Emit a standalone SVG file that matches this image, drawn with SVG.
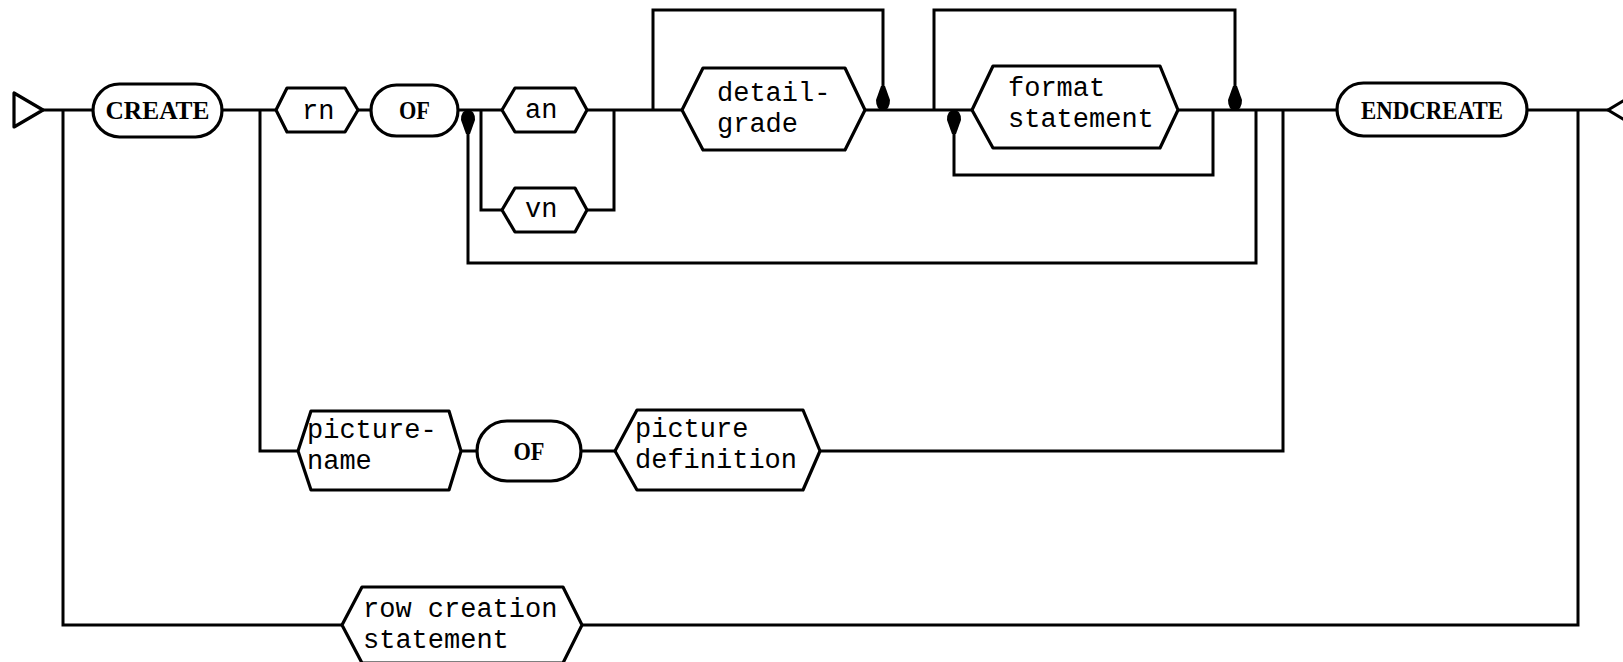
<svg xmlns="http://www.w3.org/2000/svg" xmlns:xlink="http://www.w3.org/1999/xlink" width="1623" height="662" viewBox="0 0 1623 662">
<style>
.ln{fill:none;stroke:#000;stroke-width:3;stroke-linejoin:miter}
.nd{fill:#fff;stroke:#000;stroke-width:3.2;stroke-linejoin:round}
.m{font-family:"Liberation Mono",monospace;font-size:27px;fill:#000}
.s{font-family:"Liberation Serif",serif;font-weight:bold;font-size:26px;fill:#000;text-anchor:middle}
</style>
<defs>
<path id="ah" d="M-2,24 L-7,10 Q-7,0 0,0 Q7,0 7,10 L2,24 Z" fill="#000"/>
</defs>
<rect width="1623" height="662" fill="#fff"/>
<g id="connectors">
<path class="ln" d="M43,110 H1608"/>
<path class="ln" d="M63,110 V625 H342 M582,625 H1578 V110"/>
<path class="ln" d="M260,110 V451 H300 M461,451 H477 M581,451 H615 M820,451 H1283 V110"/>
<path class="ln" d="M481,110 V210 H502 M587,210 H614 V110"/>
<path class="ln" d="M653,110 V10 H883 V92"/>
<path class="ln" d="M934,110 V10 H1235 V92"/>
<path class="ln" d="M1213,110 V175 H954 V128"/>
<path class="ln" d="M1256,110 V263 H468 V128"/>
<use xlink:href="#ah" href="#ah" transform="translate(468,110)"/>
<use xlink:href="#ah" href="#ah" transform="translate(954,110)"/>
<use xlink:href="#ah" href="#ah" transform="translate(883,110) rotate(180)"/>
<use xlink:href="#ah" href="#ah" transform="translate(1235,110) rotate(180)"/>
</g>
<g id="start"><polygon class="nd" points="14,93 14,127 43,110"/></g>
<g id="end"><polygon class="nd" points="1608,110 1638,92 1638,128"/></g>
<g id="create"><rect class="nd" x="93" y="84" width="129" height="53" rx="26.5"/><text class="s" x="157.5" y="119" textLength="104" lengthAdjust="spacingAndGlyphs">CREATE</text></g>
<g id="rn"><polygon class="nd" points="276,110 287,88 345,88 358,110 345,132 287,132"/><text class="m" x="302" y="119">rn</text></g>
<g id="of1"><rect class="nd" x="371" y="85" width="87" height="51" rx="25.5"/><text class="s" x="414.5" y="119" textLength="31" lengthAdjust="spacingAndGlyphs">OF</text></g>
<g id="an"><polygon class="nd" points="502,110 515,88 575,88 587,110 575,132 515,132"/><text class="m" x="525" y="118">an</text></g>
<g id="vn"><polygon class="nd" points="502,210 515,188 575,188 587,210 575,232 515,232"/><text class="m" x="525" y="217">vn</text></g>
<g id="detailgrade"><polygon class="nd" points="682,110 703,68 845,68 865,110 845,150 703,150"/><text class="m" x="717" y="101">detail-</text><text class="m" x="717" y="132">grade</text></g>
<g id="format"><polygon class="nd" points="972,110 993,66 1160,66 1178,110 1160,148 993,148"/><text class="m" x="1008" y="96">format</text><text class="m" x="1008" y="127">statement</text></g>
<g id="endcreate"><rect class="nd" x="1337" y="83" width="190" height="53" rx="26.5"/><text class="s" x="1432" y="119" textLength="142" lengthAdjust="spacingAndGlyphs">ENDCREATE</text></g>
<g id="picturename"><polygon class="nd" points="298,451 311,411 449,411 461,451 449,490 311,490"/><text class="m" x="307" y="438">picture-</text><text class="m" x="307" y="469">name</text></g>
<g id="of2"><rect class="nd" x="477" y="421" width="104" height="60" rx="30"/><text class="s" x="529" y="460" textLength="31" lengthAdjust="spacingAndGlyphs">OF</text></g>
<g id="picturedef"><polygon class="nd" points="615,451 637,410 803,410 820,451 803,490 637,490"/><text class="m" x="635" y="437">picture</text><text class="m" x="635" y="468">definition</text></g>
<g id="rowcreation"><polygon class="nd" points="342,625 362,587 563,587 582,625 563,663 362,663"/><text class="m" x="363" y="617">row creation</text><text class="m" x="363" y="648">statement</text></g>
</svg>
